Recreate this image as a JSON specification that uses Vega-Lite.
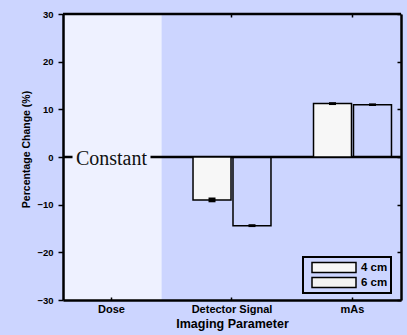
{
  "$schema": "https://vega.github.io/schema/vega-lite/v6.json",
  "width": 338,
  "height": 286,
  "autosize": {"type": "none"},
  "padding": {"left": 63, "top": 14, "right": 6, "bottom": 35},
  "background": "#CCD5FF",
  "config": {
    "view": {"stroke": null},
    "font": "Liberation Sans",
    "legend": {"strokeWidth": 2}
  },
  "datasets": {
    "bars": [
      {"param": "Detector Signal", "depth": "4 cm", "value": -9.0, "lo": -9.5, "hi": -8.5},
      {"param": "Detector Signal", "depth": "6 cm", "value": -14.4, "lo": -14.7, "hi": -14.1},
      {"param": "mAs", "depth": "4 cm", "value": 11.2, "lo": 10.9, "hi": 11.5},
      {"param": "mAs", "depth": "6 cm", "value": 10.95, "lo": 10.7, "hi": 11.25}
    ],
    "region": [{"param": "Dose", "label": "Constant"}],
    "lines": [{"v": 0}, {"v": 30}]
  },
  "layer": [
    {
      "data": {"name": "region"},
      "mark": {"type": "bar", "fill": "#EEF1FF", "width": {"band": 1.245}, "xOffset": 1.6},
      "encoding": {
        "x": {
          "field": "param", "type": "nominal",
          "scale": {"type": "band", "domain": ["Dose", "Detector Signal", "mAs"], "paddingInner": 0.353, "paddingOuter": 0.079},
          "axis": {
            "orient": "bottom", "zindex": 1, "labelAngle": 0,
            "domainColor": "black", "domainWidth": 2.5,
            "tickColor": "black", "tickWidth": 1.5, "tickSize": -3,
            "labelFont": "Liberation Sans", "labelFontWeight": "bold", "labelFontSize": 11, "labelColor": "black", "labelPadding": 6,
            "title": "Imaging Parameter", "titleFont": "Liberation Sans", "titleFontWeight": "bold", "titleFontSize": 12.5, "titleColor": "black", "titlePadding": 3
          }
        },
        "y": {
          "datum": -30, "type": "quantitative",
          "scale": {"domain": [-30, 30], "nice": false, "zero": false},
          "axis": {
            "orient": "left", "zindex": 1, "grid": false,
            "values": [-30, -20, -10, 0, 10, 20, 30],
            "domainColor": "black", "domainWidth": 2.5,
            "tickColor": "black", "tickWidth": 1.5, "tickSize": 5,
            "labelFont": "Liberation Sans", "labelFontWeight": "bold", "labelFontSize": 9.5, "labelColor": "black", "labelPadding": 5,
            "title": "Percentage Change (%)", "titleFont": "Liberation Sans", "titleFontWeight": "bold", "titleFontSize": 10.5, "titleColor": "black", "titlePadding": 5, "titleY": 135
          }
        },
        "y2": {"datum": 30}
      }
    },
    {
      "data": {"name": "lines"},
      "mark": {"type": "rule", "strokeWidth": 2.3, "color": "black"},
      "encoding": {
        "y": {"field": "v", "type": "quantitative", "scale": {"domain": [-30, 30], "nice": false, "zero": false}, "axis": null}
      }
    },
    {
      "data": {"name": "region"},
      "mark": {"type": "bar", "fill": "#EEF1FF", "width": {"band": 1}},
      "encoding": {
        "x": {
          "field": "param", "type": "nominal",
          "scale": {"type": "band", "domain": ["Dose", "Detector Signal", "mAs"], "paddingInner": 0.353, "paddingOuter": 0.079},
          "axis": {"orient": "top", "values": ["Detector Signal", "mAs"], "zindex": 1, "domain": false, "tickColor": "black", "tickWidth": 1.5, "tickSize": -3, "labels": false, "title": null}
        },
        "y": {
          "datum": -1.2, "type": "quantitative",
          "scale": {"domain": [-30, 30], "nice": false, "zero": false},
          "axis": null
        },
        "y2": {"datum": 1.2}
      }
    },
    {
      "data": {"name": "region"},
      "mark": {"type": "text", "font": "Liberation Serif", "fontSize": 20, "baseline": "alphabetic", "align": "center", "dy": 7.5, "color": "#111111"},
      "encoding": {
        "x": {"field": "param", "type": "nominal", "scale": {"type": "band", "domain": ["Dose", "Detector Signal", "mAs"], "paddingInner": 0.353, "paddingOuter": 0.079}, "axis": null},
        "y": {"datum": 0, "type": "quantitative", "scale": {"domain": [-30, 30], "nice": false, "zero": false}, "axis": null},
        "text": {"field": "label"}
      }
    },
    {
      "data": {"name": "bars"},
      "mark": {"type": "bar", "stroke": "black", "strokeWidth": 1.5},
      "encoding": {
        "x": {
          "field": "param", "type": "nominal",
          "scale": {"type": "band", "domain": ["Dose", "Detector Signal", "mAs"], "paddingInner": 0.353, "paddingOuter": 0.079},
          "axis": null
        },
        "xOffset": {"field": "depth", "type": "nominal", "scale": {"domain": ["4 cm", "6 cm"], "paddingInner": 0.05}},
        "y": {
          "field": "value", "type": "quantitative",
          "scale": {"domain": [-30, 30], "nice": false, "zero": false},
          "axis": {"orient": "right", "zindex": 1, "grid": false, "values": [-30, -20, -10, 0, 10, 20, 30], "domainColor": "black", "domainWidth": 2.5, "tickColor": "black", "tickWidth": 1.5, "tickSize": -4, "labels": false, "title": null}
        },
        "y2": {"datum": 0},
        "fill": {
          "field": "depth", "type": "nominal",
          "scale": {"domain": ["4 cm", "6 cm"], "range": ["#F7F7F7", "#F3F3F3"]},
          "legend": {
            "title": null, "orient": "none", "legendX": 240, "legendY": 243, "direction": "vertical",
            "symbolType": "M-1,-0.23H1V0.23H-1Z", "symbolSize": 1936,
            "symbolStrokeColor": "black", "symbolStrokeWidth": 1.5,
            "clipHeight": 15, "rowPadding": 0, "padding": 3, "symbolOffset": 5,
            "labelFont": "Liberation Sans", "labelFontWeight": "bold", "labelFontSize": 11.5, "labelColor": "black", "labelOffset": 4,
            "strokeColor": "black"
          }
        },
        "fillOpacity": {
          "field": "depth", "type": "nominal",
          "scale": {"domain": ["4 cm", "6 cm"], "range": [1, 0]},
          "legend": null
        }
      }
    },
    {
      "data": {"name": "bars"},
      "mark": {"type": "bar", "fill": "black", "width": 7},
      "encoding": {
        "x": {"field": "param", "type": "nominal", "scale": {"type": "band", "domain": ["Dose", "Detector Signal", "mAs"], "paddingInner": 0.353, "paddingOuter": 0.079}, "axis": null},
        "xOffset": {"field": "depth", "type": "nominal", "scale": {"domain": ["4 cm", "6 cm"], "paddingInner": 0.05}},
        "y": {"field": "lo", "type": "quantitative", "scale": {"domain": [-30, 30], "nice": false, "zero": false}, "axis": null},
        "y2": {"field": "hi"}
      }
    }
  ],
  "resolve": {"axis": {"x": "independent", "y": "independent"}}
}
